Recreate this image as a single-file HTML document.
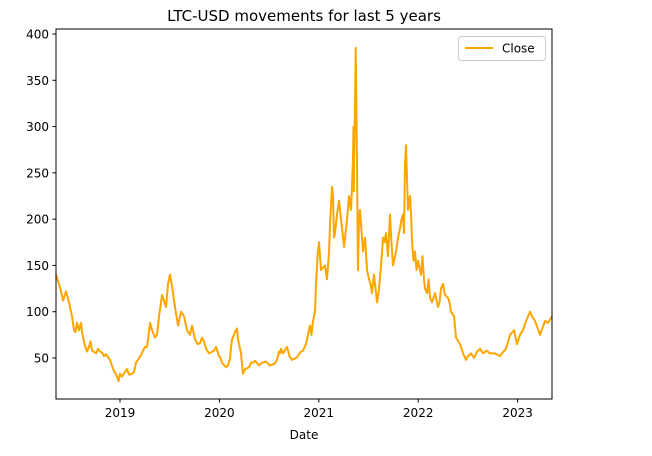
<!DOCTYPE html>
<html><head><meta charset="utf-8"><style>
html,body{margin:0;padding:0;background:#fff;}
svg{display:block;font-family:"DejaVu Sans","Liberation Sans",sans-serif;}
</style></head><body>
<svg id="chart" width="652" height="456" viewBox="0 0 652 456">
<rect x="0" y="0" width="652" height="456" fill="#fff"/>
<text x="304" y="21" text-anchor="middle" font-size="15" fill="#000">LTC-USD movements for last 5 years</text>
<g id="grid-y"></g>
<g id="grid-x"></g>
<path id="series" fill="none" stroke="#ffa500" stroke-width="2" stroke-linejoin="round"/>
<rect x="56" y="29" width="496" height="370" fill="none" stroke="#000" stroke-width="1"/>
<text x="304" y="439" text-anchor="middle" font-size="12">Date</text>
<g>
<rect x="458.5" y="36.5" width="87" height="24" rx="3" fill="#fff" stroke="#ccc"/>
<line x1="465" y1="48" x2="493" y2="48" stroke="#ffa500" stroke-width="2"/>
<text x="502" y="52.5" font-size="12">Close</text>
</g>
</svg>
<script>
const dates=[2018.356,2018.40,2018.427,2018.457,2018.487,2018.517,2018.537,2018.552,2018.567,2018.587,2018.608,2018.618,2018.643,2018.668,2018.688,2018.703,2018.718,2018.759,2018.779,2018.799,2018.819,2018.839,2018.859,2018.899,2018.930,2018.970,2018.985,2019.000,2019.020,2019.070,2019.091,2019.121,2019.141,2019.161,2019.181,2019.211,2019.231,2019.252,2019.272,2019.302,2019.322,2019.352,2019.372,2019.392,2019.423,2019.463,2019.483,2019.503,2019.523,2019.533,2019.553,2019.584,2019.614,2019.644,2019.674,2019.704,2019.724,2019.755,2019.780,2019.805,2019.825,2019.845,2019.865,2019.895,2019.946,2019.966,2019.996,2020.011,2020.026,2020.066,2020.086,2020.107,2020.117,2020.127,2020.157,2020.177,2020.187,2020.217,2020.237,2020.258,2020.298,2020.318,2020.338,2020.358,2020.398,2020.429,2020.469,2020.489,2020.509,2020.559,2020.579,2020.600,2020.610,2020.620,2020.640,2020.680,2020.705,2020.730,2020.771,2020.791,2020.811,2020.841,2020.871,2020.911,2020.926,2020.942,2020.962,2020.972,2020.987,2021.002,2021.022,2021.062,2021.082,2021.103,2021.113,2021.133,2021.143,2021.153,2021.163,2021.183,2021.203,2021.233,2021.254,2021.284,2021.304,2021.324,2021.334,2021.344,2021.349,2021.352,2021.354,2021.364,2021.371,2021.376,2021.384,2021.394,2021.404,2021.414,2021.445,2021.465,2021.485,2021.505,2021.520,2021.535,2021.555,2021.586,2021.606,2021.626,2021.646,2021.661,2021.676,2021.696,2021.716,2021.731,2021.746,2021.777,2021.797,2021.817,2021.832,2021.847,2021.857,2021.867,2021.877,2021.897,2021.917,2021.928,2021.938,2021.953,2021.968,2021.983,2021.998,2022.028,2022.043,2022.058,2022.068,2022.089,2022.104,2022.119,2022.139,2022.169,2022.199,2022.214,2022.229,2022.249,2022.270,2022.300,2022.315,2022.330,2022.360,2022.380,2022.421,2022.431,2022.451,2022.481,2022.501,2022.531,2022.561,2022.592,2022.622,2022.652,2022.687,2022.722,2022.773,2022.823,2022.843,2022.883,2022.924,2022.964,2022.994,2023.024,2023.054,2023.085,2023.125,2023.145,2023.175,2023.225,2023.276,2023.306,2023.346];
const closeValues=[140,125,112,122,110,95,80,78,88,80,88,78,65,57,62,68,58,55,60,57,56,52,54,48,38,30,25,33,30,38,32,33,35,45,48,53,58,62,62,88,80,72,75,95,118,105,130,140,128,120,105,85,100,95,80,75,85,70,65,66,72,68,60,55,58,62,52,50,45,40,42,50,62,70,78,82,70,55,33,38,40,45,45,47,42,45,46,44,42,44,48,57,55,60,55,62,52,48,50,52,56,58,65,85,75,90,100,130,160,175,145,150,135,165,195,235,225,180,185,205,220,190,170,200,225,210,235,265,300,230,260,320,385,340,260,145,200,210,165,180,145,135,130,120,140,110,125,150,180,175,185,160,205,175,150,165,180,190,200,205,185,260,280,210,225,205,175,155,165,145,155,140,160,135,125,120,135,115,110,120,105,110,125,130,118,115,110,100,95,72,65,62,55,48,52,55,50,57,60,55,58,55,55,52,55,60,75,80,65,75,80,90,100,95,90,75,90,88,95,85,80];
const yTicks=[50,100,150,200,250,300,350,400];
const xTicks=[2019,2020,2021,2022,2023];
const xTickLabels=["2019","2020","2021","2022","2023"];

const X0=56,X1=552,Y0=29,Y1=399;
const dMin=2018.356,dMax=2023.346,vMin=5.7,vMax=405.4;
function xs(d){return X0+(d-dMin)/(dMax-dMin)*(X1-X0);}
function ys(v){return Y1-(v-vMin)/(vMax-vMin)*(Y1-Y0);}
const NS="http://www.w3.org/2000/svg";
const gy=document.getElementById('grid-y'),gx=document.getElementById('grid-x');
yTicks.forEach(v=>{
  const y=ys(v);
  const l=document.createElementNS(NS,'line');
  l.setAttribute('x1',X0-3.5);l.setAttribute('x2',X0);l.setAttribute('y1',y);l.setAttribute('y2',y);l.setAttribute('stroke','#000');
  
  
  gy.appendChild(l);
  const t=document.createElementNS(NS,'text');
  t.setAttribute('x',X0-7);t.setAttribute('y',y+4.5);t.setAttribute('text-anchor','end');t.setAttribute('font-size','12');
  t.textContent=v;
  
  
  gy.appendChild(t);
});
xTicks.forEach((d,i)=>{
  const x=xs(d);
  const l=document.createElementNS(NS,'line');
  l.setAttribute('x1',x);l.setAttribute('x2',x);l.setAttribute('y1',Y1);l.setAttribute('y2',Y1+3.5);l.setAttribute('stroke','#000');
  
  
  gx.appendChild(l);
  const t=document.createElementNS(NS,'text');
  t.setAttribute('x',x);t.setAttribute('y',Y1+18);t.setAttribute('text-anchor','middle');t.setAttribute('font-size','12');
  t.textContent=xTickLabels[i];
  
  
  gx.appendChild(t);
});
let p='';
dates.forEach((d,i)=>{p+=(i?'L':'M')+xs(d).toFixed(2)+','+ys(closeValues[i]).toFixed(2);});
document.getElementById('series').setAttribute('d',p);
</script>
</body></html>
